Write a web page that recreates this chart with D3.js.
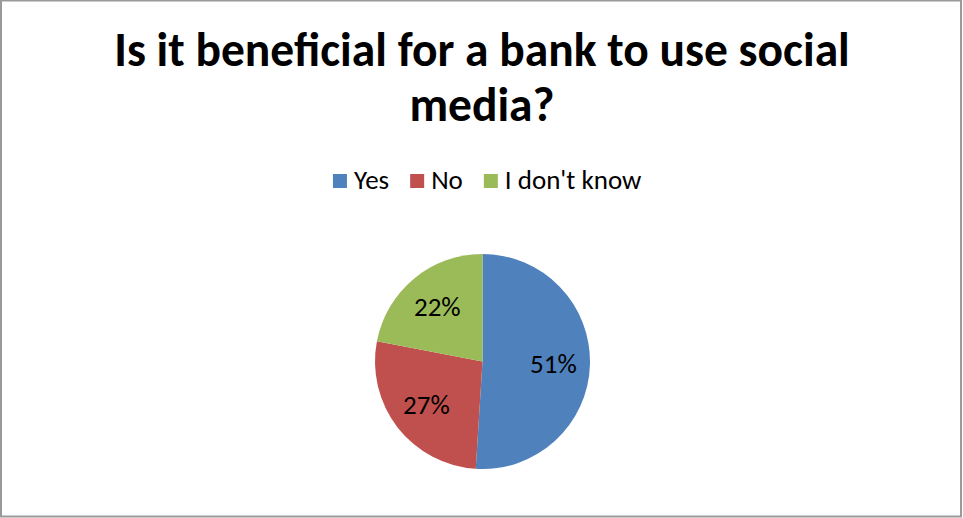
<!DOCTYPE html>
<html>
<head>
<meta charset="utf-8">
<script src="https://cdn.jsdelivr.net/npm/d3@7"></script>
<style>
  html, body { margin: 0; padding: 0; background: #fff; }
  svg { display: block; }
</style>
</head>
<body>
<svg id="chart" width="963" height="518"></svg>
<script>
// Survey answers
const categories = ["Yes", "No", "I don't know"];
const values = [51, 27, 22];
const colors = ["#4F81BD", "#C0504D", "#9BBB59"];
const titleLines = ["Is it beneficial for a bank to use social", "media?"];

const W = 963, H = 518;
const font = "Carlito, Lato, 'Open Sans', sans-serif";
const svg = d3.select("#chart");

// chart frame
svg.append("rect")
  .attr("x", 1).attr("y", 0.5)
  .attr("width", W - 3).attr("height", H - 2)
  .attr("fill", "#fff")
  .attr("stroke", "#9a9a9a").attr("stroke-width", 2);

// title
svg.append("g").selectAll("text")
  .data(titleLines)
  .join("text")
  .attr("x", 482)
  .attr("y", (d, i) => 66 + i * 55)
  .attr("text-anchor", "middle")
  .attr("font-family", font)
  .attr("font-weight", "bold")
  .attr("font-size", 47.5)
  .attr("fill", "#000")
  .text(d => d);

// legend
const legend = svg.append("g");
const items = legend.selectAll("g").data(categories).join("g");
items.append("rect")
  .attr("width", 14).attr("height", 14)
  .attr("y", -15)
  .attr("fill", (d, i) => colors[i]);
items.append("text")
  .attr("x", 21)
  .attr("y", 0)
  .attr("font-family", font)
  .attr("font-size", 27)
  .attr("fill", "#000")
  .text(d => d);
let offset = 0;
const gap = 21;
items.each(function () {
  const w = this.getBBox().width;
  d3.select(this).attr("transform", `translate(${offset},0)`);
  offset += w + gap;
});
const totalW = offset - gap;
legend.attr("transform", `translate(${487.5 - totalW / 2},189)`);

// pie
const cx = 482.5, cy = 361.5, R = 107.5;
const pie = d3.pie().sort(null).value(d => d.value);
const arcs = pie(categories.map((c, i) => ({ cat: c, value: values[i] })));
const arc = d3.arc().innerRadius(0).outerRadius(R);
const labelArc = d3.arc().innerRadius(R * 0.66).outerRadius(R * 0.66);

const g = svg.append("g").attr("transform", `translate(${cx},${cy})`);
g.selectAll("path")
  .data(arcs)
  .join("path")
  .attr("d", arc)
  .attr("fill", (d, i) => colors[i]);

const total = d3.sum(values);
g.selectAll("text")
  .data(arcs)
  .join("text")
  .attr("transform", d => `translate(${labelArc.centroid(d)})`)
  .attr("text-anchor", "middle")
  .attr("dy", "0.35em")
  .attr("font-family", font)
  .attr("font-size", 27)
  .attr("fill", "#000")
  .text(d => Math.round(d.value / total * 100) + "%");
</script>
</body>
</html>
